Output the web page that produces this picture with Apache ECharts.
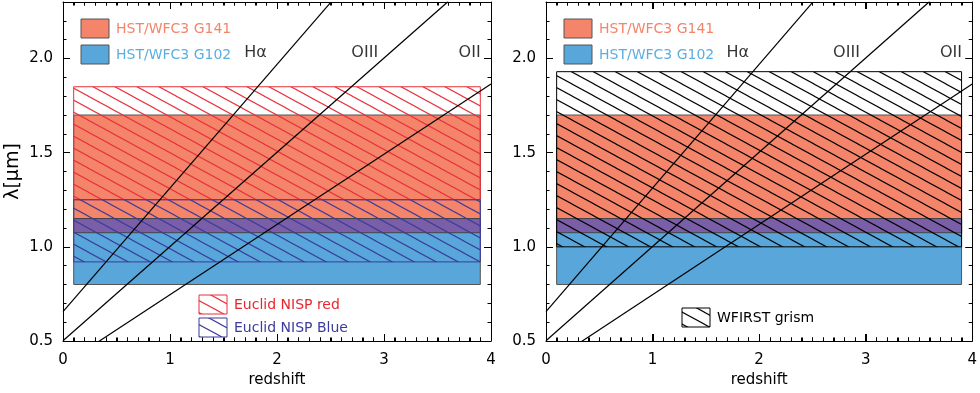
<!DOCTYPE html>
<html>
<head>
<meta charset="utf-8">
<script src="https://cdn.jsdelivr.net/npm/echarts@6/dist/echarts.min.js"></script>
<style>
  html, body { margin: 0; padding: 0; background: #fff; }
  #chart { width: 980px; height: 393px; }
</style>
</head>
<body>
<div id="chart"></div>
<script>
// axis ranges
const zExtent = [0, 4];
const lamExtent = [0.5, 2.3];
const xMajorTicks = [0, 1, 2, 3, 4];
const xMinorTicks = [];
for (let i = 1; i < 40; i++) if (i % 10 !== 0) xMinorTicks.push(i / 10);

// band extent in redshift and wavelength ranges (micron)
const zRange = [0.1, 3.9];
const g141 = [1.075, 1.70];
const g102 = [0.80, 1.15];
const euclidRed = [1.25, 1.85];
const euclidBlue = [0.92, 1.25];
const wfirst = [1.00, 1.93];

// emission lines, endpoints [z, lambda]
const haLine = [[0, 0.656], [2.5, 2.297]];
const o3Line = [[0, 0.501], [3.6, 2.303]];
const o2Line = [[0, 0.373], [4, 1.864]];
const lineLabels = [[1.80, 2.03, 'Hα'], [2.82, 2.03, 'OIII'], [3.80, 2.03, 'OII']];

const FONT = '"DejaVu Sans", sans-serif';
const SALMON = '#F4846A';
const BLUE = '#58A6DA';
const PURPLE = '#7A5EA8';
const RED = '#E8303A';
const NAVY = '#3B3B9B';

// diagonal hatch tile
function makeHatch(color) {
  const w = 22, h = 12;
  const c = document.createElement('canvas');
  c.width = w; c.height = h;
  const ctx = c.getContext('2d');
  ctx.strokeStyle = color;
  ctx.lineWidth = 1.1;
  for (let k = -2; k <= 2; k++) {
    ctx.beginPath();
    ctx.moveTo(-w, -h + k * h);
    ctx.lineTo(2 * w, 2 * h + k * h);
    ctx.stroke();
  }
  return { image: c, repeat: 'repeat' };
}

const overlap = [Math.max(g141[0], g102[0]), Math.min(g141[1], g102[1])];

function bandSeries(gi, band, fill, stroke, z) {
  return {
    type: 'custom',
    xAxisIndex: gi * 2,
    yAxisIndex: gi * 4,
    z: z,
    silent: true,
    encode: { x: [0, 1], y: [2, 3] },
    data: [[zRange[0], zRange[1], band[0], band[1]]],
    renderItem: function (params, api) {
      const p0 = api.coord([api.value(0), api.value(3)]);
      const p1 = api.coord([api.value(1), api.value(2)]);
      return {
        type: 'rect',
        shape: { x: p0[0], y: p0[1], width: p1[0] - p0[0], height: p1[1] - p0[1] },
        style: { fill: fill, stroke: stroke, lineWidth: 1 }
      };
    }
  };
}

// x ticks on bottom and top edges, placed through the x scale
function xTickSeries(gi, ticks, len) {
  return {
    type: 'custom',
    xAxisIndex: gi * 2,
    yAxisIndex: gi * 4,
    z: 30,
    silent: true,
    clip: false,
    encode: { x: 0, y: 1 },
    data: ticks.map(v => [v, lamExtent[0]]),
    renderItem: function (params, api) {
      const v = api.value(0);
      const b = api.coord([v, lamExtent[0]]);
      const t = api.coord([v, lamExtent[1]]);
      const x = Math.round(b[0]) + 0.5;
      return {
        type: 'group',
        children: [
          { type: 'line', shape: { x1: x, y1: b[1], x2: x, y2: b[1] - len },
            style: { stroke: '#000', lineWidth: 1 } },
          { type: 'line', shape: { x1: x, y1: t[1], x2: x, y2: t[1] + len },
            style: { stroke: '#000', lineWidth: 1 } }
        ]
      };
    }
  };
}

function lineSeries(gi, data) {
  return {
    type: 'line',
    xAxisIndex: gi * 2,
    yAxisIndex: gi * 4,
    data: data,
    showSymbol: false,
    clip: true,
    z: 10,
    lineStyle: { color: '#000', width: 1.2 }
  };
}

function labelSeries(gi) {
  return {
    type: 'scatter',
    xAxisIndex: gi * 2,
    yAxisIndex: gi * 4,
    data: lineLabels,
    symbolSize: 1,
    itemStyle: { color: 'rgba(0,0,0,0)' },
    z: 11,
    label: {
      show: true,
      position: 'inside',
      formatter: p => p.value[2],
      color: '#000',
      fontFamily: FONT,
      fontSize: 16
    }
  };
}

function xAxes(gi) {
  const make = pos => ({
    gridIndex: gi, type: 'value', position: pos,
    min: zExtent[0], max: zExtent[1], interval: 1,
    axisLine: { show: true, onZero: false, lineStyle: { color: '#000', width: 1 } },
    axisTick: { show: true, inside: true, length: 7, lineStyle: { color: '#000', width: 1 } },
    minorTick: { show: true, splitNumber: 10, length: 3.5, lineStyle: { color: '#000', width: 1 } },
    splitLine: { show: false },
    axisLabel: { show: false }
  });
  const bottom = make('bottom');
  Object.assign(bottom, {
    axisLabel: { show: true, margin: 12, fontFamily: FONT, fontSize: 15, color: '#000' },
    name: 'redshift', nameLocation: 'middle', nameGap: 32,
    nameTextStyle: { fontFamily: FONT, fontSize: 15, color: '#000' }
  });
  return [bottom, make('top')];
}

function yAxes(gi) {
  const make = (pos, minor) => ({
    gridIndex: gi, type: 'value', position: pos,
    min: lamExtent[0], max: lamExtent[1], interval: minor ? 0.1 : 0.5,
    axisLine: { show: !minor, onZero: false, lineStyle: { color: '#000', width: 1 } },
    axisTick: { show: true, inside: true, length: minor ? 3.5 : 7, lineStyle: { color: '#000', width: 1 } },
    splitLine: { show: false },
    axisLabel: { show: false }
  });
  const left = make('left', false);
  left.axisLabel = {
    show: true, margin: 10, fontFamily: FONT, fontSize: 15, color: '#000',
    showMaxLabel: false, formatter: v => v.toFixed(1)
  };
  if (gi === 0) {
    Object.assign(left, {
      name: 'λ[μm]', nameLocation: 'middle', nameGap: 40, nameRotate: 90,
      nameTextStyle: { fontFamily: FONT, fontSize: 19, color: '#000' }
    });
  }
  return [left, make('left', true), make('right', false), make('right', true)];
}

const redHatch = makeHatch(RED);
const navyHatch = makeHatch(NAVY);
const blackHatch = makeHatch('#000');

function legendBox(x, y, fill, stroke, text, color) {
  return [
    { type: 'rect', shape: { x: x, y: y, width: 28, height: 19 },
      style: { fill: fill, stroke: stroke, lineWidth: 1 }, z: 20 },
    { type: 'text', x: x + 35, y: y + 10,
      style: { text: text, fill: color, font: '14px ' + FONT, verticalAlign: 'middle' }, z: 20 }
  ];
}

const graphics = [].concat(
  legendBox(81, 19, SALMON, '#555', 'HST/WFC3 G141', SALMON),
  legendBox(81, 45, BLUE, '#555', 'HST/WFC3 G102', '#5CAEE0'),
  legendBox(564, 19, SALMON, '#555', 'HST/WFC3 G141', SALMON),
  legendBox(564, 45, BLUE, '#555', 'HST/WFC3 G102', '#5CAEE0'),
  legendBox(199, 295, redHatch, RED, 'Euclid NISP red', '#E8262E'),
  legendBox(199, 318, navyHatch, NAVY, 'Euclid NISP Blue', NAVY),
  legendBox(682, 308, blackHatch, '#000', 'WFIRST grism', '#000')
);

const chart = echarts.init(document.getElementById('chart'));
chart.setOption({
  animation: false,
  backgroundColor: '#fff',
  grid: [
    { left: 63, top: 2, width: 428, height: 343 },
    { left: 546, top: 2, width: 428, height: 343 }
  ],
  xAxis: xAxes(0).concat(xAxes(1)),
  yAxis: yAxes(0).concat(yAxes(1)),
  graphic: graphics,
  series: [
    bandSeries(0, g141, SALMON, '#555', 1),
    bandSeries(0, g102, BLUE, '#555', 2),
    bandSeries(0, overlap, PURPLE, '#444', 3),
    bandSeries(0, euclidRed, redHatch, RED, 4),
    bandSeries(0, euclidBlue, navyHatch, NAVY, 5),
    xTickSeries(0, xMajorTicks, 7),
    xTickSeries(0, xMinorTicks, 3.5),
    lineSeries(0, haLine),
    lineSeries(0, o3Line),
    lineSeries(0, o2Line),
    labelSeries(0),
    bandSeries(1, g141, SALMON, '#555', 1),
    bandSeries(1, g102, BLUE, '#555', 2),
    bandSeries(1, overlap, PURPLE, '#444', 3),
    bandSeries(1, wfirst, blackHatch, '#000', 4),
    xTickSeries(1, xMajorTicks, 7),
    xTickSeries(1, xMinorTicks, 3.5),
    lineSeries(1, haLine),
    lineSeries(1, o3Line),
    lineSeries(1, o2Line),
    labelSeries(1)
  ]
});
</script>
</body>
</html>
